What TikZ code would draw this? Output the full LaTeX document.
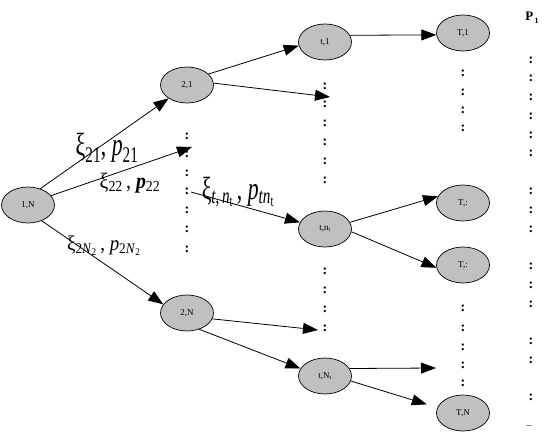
\documentclass[tikz,border=0pt]{standalone}
\usepackage{fontspec}
\setmainfont{Liberation Serif}
\usetikzlibrary{shapes.geometric,arrows.meta}
\definecolor{nodegray}{RGB}{192,192,192}
\tikzset{
  st/.style={ellipse,draw=black,line width=0.7pt,fill=nodegray,minimum width=53pt,minimum height=36pt,inner sep=0pt,font=\fontsize{9}{10}\selectfont},
  arr/.style={-{Triangle[length=15pt,width=11pt]},line width=0.8pt},
  col/.style={inner sep=0pt,font=\fontsize{14}{14}\selectfont\bfseries},
  lab/.style={inner sep=0pt}
}
\begin{document}
\begin{tikzpicture}[x=1pt,y=-1pt]
\useasboundingbox (0,0) rectangle (556,435);
% states
\node[st] (n1) at (28,205) {1,N};
\node[st] (n21) at (187,85) {2,1};
\node[st] (n2N) at (187,313) {2,N};
\node[st] (nt1) at (325,42) {t,1};
\node[st] (ntn) at (325,229) {t,n\textsubscript{t}};
\node[st] (ntN) at (325,376) {t,N\textsubscript{t}};
\node[st] (nT1) at (463,33) {T,1};
\node[st] (nTa) at (463,203) {T,:};
\node[st] (nTb) at (463,265) {T,:};
\node[st] (nTN) at (463,413) {T,N};
% colon columns
\foreach \y in {136,154,173,191,210,229,249} \node[col] at (187,\y) {:};
\foreach \y in {86,104,123,142,161,180,271,290,309,328} \node[col] at (325,\y) {:};
\foreach \y in {73,92,110,128,308,328,347,365,383} \node[col] at (463,\y) {:};
\foreach \y in {60,78,97,116,135,153,191,210,229,266,285,304,341,360,397} \node[col] at (531,\y) {:};
% free ends
\coordinate (c2) at (192,147);
\coordinate (c2b) at (191,192);
\coordinate (ct1) at (330,97);
\coordinate (ct2) at (318,330);
\coordinate (cT) at (436,368);
% arrows
\draw[arr] (n1.53) -- (n21.216);
\draw[arr] (n1.22) -- (c2);
\draw[arr] (n1.311) -- (n2N.160);
\draw[arr] (n21.27) -- (nt1.188);
\draw[arr] (n21.4) -- (ct1);
\draw[arr] (c2b) -- (ntn.165);
\draw[arr] (n2N.-13) -- (ct2);
\draw[arr] (n2N.-53) -- (ntN.163);
\draw[arr] (nt1.15) -- (nT1.184);
\draw[arr] (ntn.15) -- (nTa.165);
\draw[arr] (ntn.-6) -- (nTb.186);
\draw[arr] (ntN.17) -- (cT);
\draw[arr,shorten >=11pt] (ntN.-11) -- (nTN.168);
% labels
\node[lab,font=\fontsize{32}{32}\selectfont] (l1) at (107,148) {\scalebox{0.68}[1]{ξ\textsubscript{21}, \textit{p}\textsubscript{21}}};
\node[lab,font=\fontsize{22}{22}\selectfont] (l2) at (130,183) {\scalebox{0.9}[1]{ξ\textsubscript{22}\,, \textbf{\textit{p}}\textsubscript{22}}};
\node[lab,font=\fontsize{21}{21}\selectfont] (l3) at (104,246) {\scalebox{0.9}[1]{ξ\textsubscript{2\textit{N}\textsubscript{2}}\,, \textit{p}\textsubscript{2\textit{N}\textsubscript{2}}}};
\node[lab,font=\fontsize{32}{32}\selectfont] (l4) at (238,192) {\scalebox{0.68}[1]{ξ\textsubscript{\textit{t},\,\textit{n}\textsubscript{t}}\,, \textit{p}\textsubscript{\textit{tn}\textsubscript{t}}}};
\node[lab,font=\fontsize{13}{13}\selectfont\bfseries] (P) at (532,18) {P\raisebox{-3pt}{\fontsize{8}{8}\selectfont\,1}};
\node[lab,font=\fontsize{10}{10}\selectfont] (dash) at (529,427) {–};
\end{tikzpicture}
\end{document}
